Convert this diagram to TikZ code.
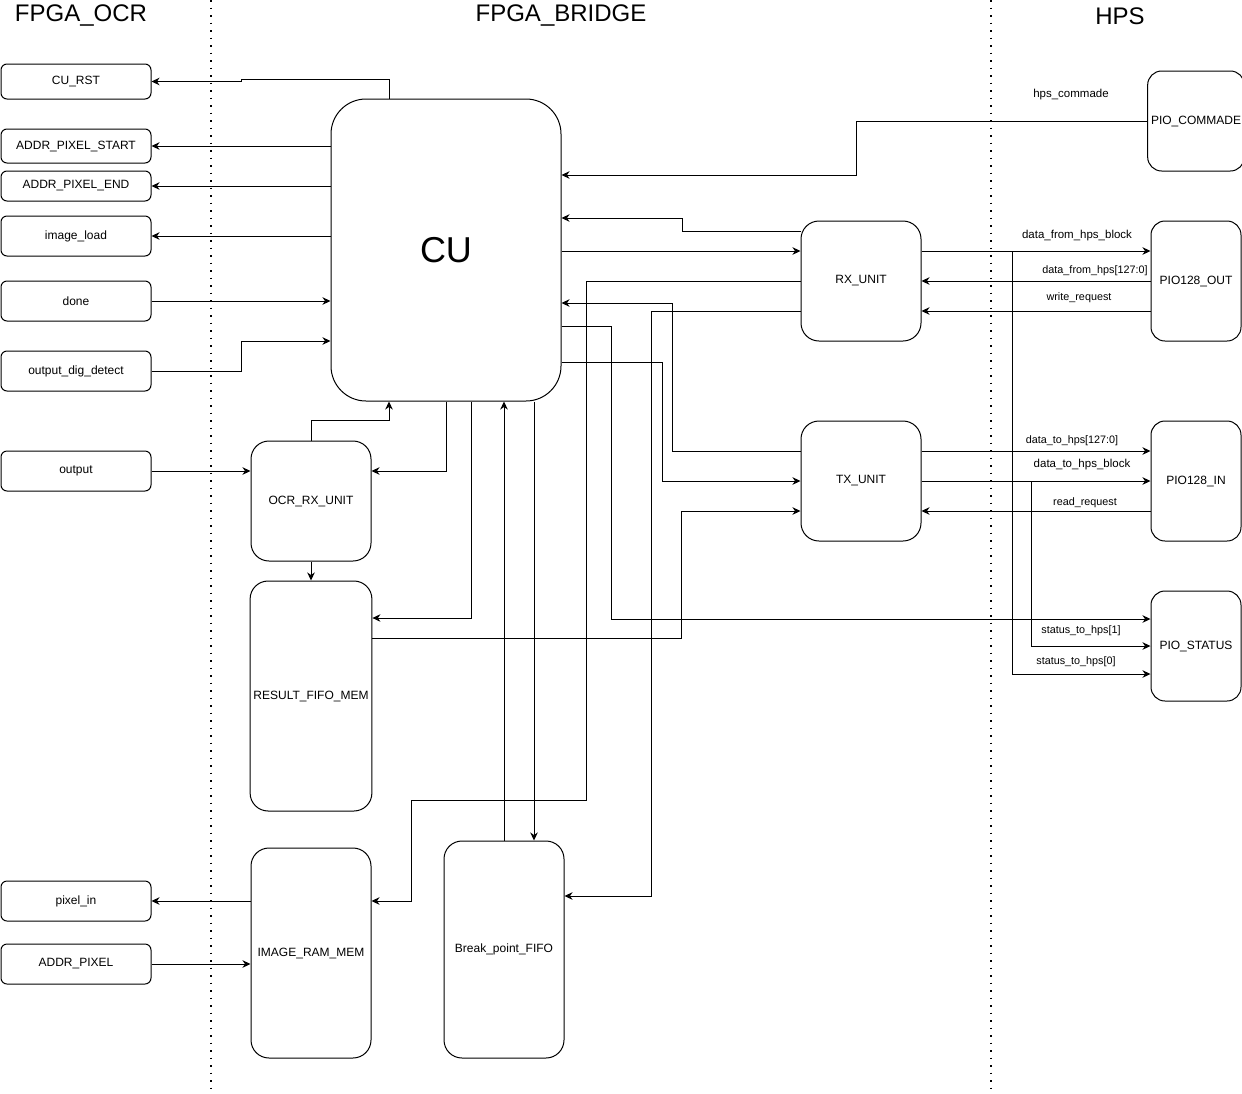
\documentclass[tikz,border=0pt]{standalone}
\usepackage{fontspec}
\setmainfont{Liberation Sans}
\usetikzlibrary{arrows.meta, positioning}

\begin{document}
\begin{tikzpicture}[
  x=1pt, y=-1pt, line width=1pt,
  io/.style={draw, rectangle, rounded corners=6pt, minimum width=150pt,
             minimum height=40pt, align=center, font=\fontsize{12}{14}\selectfont},
  unit/.style={draw, rectangle, rounded corners=18pt, minimum width=120pt,
               minimum height=120pt, align=center, font=\fontsize{12}{14}\selectfont},
  pio/.style={unit, rounded corners=14pt, minimum width=90pt},
  lbl/.style={font=\fontsize{10.8}{12}\selectfont, inner sep=1pt},
  wlbl/.style={lbl, font=\fontsize{11.5}{13}\selectfont},
  zone/.style={font=\fontsize{24}{26}\selectfont},
  arr/.style={-{Stealth[length=8pt, width=7.5pt, inset=2.5pt]}},
  sep/.style={line width=2pt, dash pattern=on 1.5pt off 6pt},
  node distance=20pt,
]
  \useasboundingbox (0,0) rectangle (1242,1093);

  % zones
  \draw[sep] (211,0) -- (211,1093);
  \draw[sep] (991,0) -- (991,1093);
  \node[zone] (zocr) at (81,16) {FPGA\_OCR};
  \node[zone] (zbr) at (561,16) {FPGA\_BRIDGE};
  \node[zone] (zhps) at (1120,16) {HPS};

  % FPGA_OCR side
  \node[io, minimum height=35pt] (rst) at (76,81.5) {CU\_RST};
  \node[io, minimum height=34pt] (aps) at (76,146) {ADDR\_PIXEL\_START};
  \node[io, minimum height=30pt] (ape) at (76,186) {ADDR\_PIXEL\_END};
  \node[io] (iml) at (76,236) {image\_load};
  \node[io] (done) at (76,301) {done};
  \node[io] (odd) at (76,371) {output\_dig\_detect};
  \node[io] (outp) at (76,471) {output};
  \node[io] (pxin) at (76,901) {pixel\_in};
  \node[io] (apx) at (76,964) {ADDR\_PIXEL};

  % FPGA_BRIDGE
  \node[unit, rounded corners=35pt, minimum width=230pt, minimum height=302pt,
        font=\fontsize{36}{40}\selectfont] (cu) at (446,250) {CU};
  \node[unit] (ocr) at (311,501) {OCR\_RX\_UNIT};
  \node[unit, minimum height=230pt, below=19pt of ocr] (res) {RESULT\_FIFO\_MEM};
  \node[unit, minimum height=210pt] (ram) at (311,953) {IMAGE\_RAM\_MEM};
  \node[unit, minimum height=217pt] (bpf) at (504,949.5) {Break\_point\_FIFO};
  \node[unit] (rx) at (861,281) {RX\_UNIT};
  \node[unit, below=79pt of rx] (tx) {TX\_UNIT};

  % HPS
  \node[pio, minimum height=100pt] (pcmd) at (1196,121) {PIO\_COMMADE};
  \node[pio] (pout) at (1196,281) {PIO128\_OUT};
  \node[pio] (pin) at (1196,481) {PIO128\_IN};
  \node[pio, minimum height=110pt] (pst) at (1196,646) {PIO\_STATUS};

  % CU <-> FPGA_OCR
  \draw[arr] (cu.north -| 389,0) |- (241,79) |- (rst.east);
  \draw[arr] (cu.west |- aps.east) -- (aps.east);
  \draw[arr] (cu.west |- ape.east) -- (ape.east);
  \draw[arr] (cu.west |- iml.east) -- (iml.east);
  \draw[arr] (done.east) -- (cu.west |- done.east);
  \draw[arr] (odd.east) -- ++(90,0) |- (cu.west |- 0,341);

  % OCR receive path
  \draw[arr] (outp.east) -- (ocr.west |- outp.east);
  \draw[arr] (ocr.north) -- ++(0,-20) -| (cu.south -| 389,0);
  \draw[arr] (cu.south) |- (ocr.east |- outp.east);
  \draw[arr] (ocr.south) -- (res.north);
  \draw[arr] (cu.south -| 471,0) |- (res.east |- 0,618);
  \draw[arr] (res.east |- 0,638) -| (681,511) -- (tx.west |- 0,511);

  % break point fifo
  \draw[arr] (bpf.north) -- (cu.south -| bpf.north);
  \draw[arr] (cu.south -| 534,0) -- (bpf.north -| 534,0);
  \draw[arr] (rx.west |- 0,311) -| (651,896) -- (bpf.east |- 0,896);

  % image ram
  \draw[arr] (rx.west) -| (586,800) -| (411,901) -- (ram.east |- pxin.east);
  \draw[arr] (ram.west |- pxin.east) -- (pxin.east);
  \draw[arr] (apx.east) -- (ram.west |- apx.east);

  % CU <-> RX / TX
  \draw[arr] (rx.west |- 0,231) -| (682,218) -- (cu.east |- 0,218);
  \draw[arr] (cu.east |- 0,251) -- (rx.west |- 0,251);
  \draw[arr] (tx.west |- 0,451) -| (672,303) -- (cu.east |- 0,303);
  \draw[arr] (cu.east |- 0,326) -| (611,619) -- (pst.west |- 0,619);
  \draw[arr] (cu.east |- 0,362) -| (662,481) -- (tx.west);
  \draw[arr] (pcmd.west) -| (856,175) -- (cu.east |- 0,175);

  % RX / TX <-> HPS
  \draw[arr] (rx.east |- 0,251) -- (pout.west |- 0,251);
  \draw[arr] (pout.west) -- (rx.east);
  \draw[arr] (pout.west |- 0,311) -- (rx.east |- 0,311);
  \draw[arr] (1012,251) |- (pst.west |- 0,674);
  \draw[arr] (tx.east |- 0,451) -- (pin.west |- 0,451);
  \draw[arr] (tx.east) -- (pin.west);
  \draw[arr] (1031,481) |- (pst.west |- 0,646);
  \draw[arr] (pin.west |- 0,511) -- (tx.east |- 0,511);

  % signal names
  \node[wlbl] (lcmd) at (1071,95) {hps\_commade};
  \node[wlbl] (lfhb) at (1077,236) {data\_from\_hps\_block};
  \node[lbl] (lfh) at (1095,271) {data\_from\_hps[127:0]};
  \node[lbl] (lwr) at (1079,298) {write\_request};
  \node[lbl] (lth) at (1072,441) {data\_to\_hps[127:0]};
  \node[wlbl] (lthb) at (1082,465) {data\_to\_hps\_block};
  \node[lbl] (lrr) at (1085,503) {read\_request};
  \node[lbl] (ls1) at (1081,631) {status\_to\_hps[1]};
  \node[lbl] (ls0) at (1076,662) {status\_to\_hps[0]};
\end{tikzpicture}
\end{document}
